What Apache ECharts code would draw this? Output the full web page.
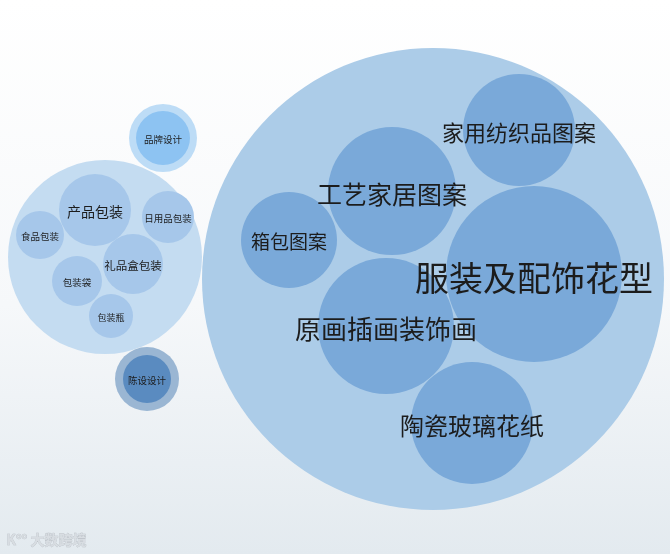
<!DOCTYPE html>
<html>
<head>
<meta charset="utf-8">
<script src="https://cdn.jsdelivr.net/npm/echarts@6/dist/echarts.min.js"></script>
<style>
html,body{margin:0;padding:0;}
#main{width:670px;height:554px;}
</style>
</head>
<body>
<div id="main"></div>
<script>
// Group (parent) circles
const groupNames = ['图案设计', '包装设计', '品牌设计', '陈设设计'];
const groupX = [433, 105, 163, 147];
const groupY = [279, 257, 138, 379];
const groupR = [231, 97, 34, 32];

// Leaf circles
const leafNames = ['家用纺织品图案', '工艺家居图案', '箱包图案', '服装及配饰花型', '原画插画装饰画', '陶瓷玻璃花纸',
  '产品包装', '日用品包装', '食品包装', '礼品盒包装', '包装袋', '包装瓶', '品牌设计', '陈设设计'];
const leafGroup = [0, 0, 0, 0, 0, 0, 1, 1, 1, 1, 1, 1, 2, 3];
const leafX = [519, 392, 289, 534, 386, 472, 95, 168, 40, 133, 77, 111, 163, 147];
const leafY = [130, 191, 240, 274, 326, 423, 210, 217, 235, 264, 281, 316, 138, 379];
const leafR = [56, 64, 48, 88, 68, 61, 36, 26, 24, 30, 25, 22, 27, 24];

// styles (not data)
const groupColors = ['#acccE8', '#c4dcf1', '#bddcf6', '#9ab6d3'];
const leafColors = ['#7aa9d9', '#a6c7ea', '#8dc3f2', '#5a8bc0'];
const leafFont = [22, 25, 19, 34, 26, 24, 14, 9.5, 9.5, 11.5, 9.5, 9, 9.5, 9.5];

const chart = echarts.init(document.getElementById('main'));

function circleItem(colorArr) {
  return function (params, api) {
    const c = api.coord([api.value(0), api.value(1)]);
    const s = api.size([api.value(2), api.value(2)]);
    return {
      type: 'circle',
      shape: { cx: c[0], cy: c[1], r: s[0] },
      style: { fill: colorArr[api.value(3)] }
    };
  };
}

function labelItem(params, api) {
  const c = api.coord([api.value(0), api.value(1)]);
  const fs = leafFont[params.dataIndex];
  return {
    type: 'text',
    style: {
      text: api.value(4),
      x: c[0], y: c[1] + fs * 0.12,
      align: 'center', verticalAlign: 'middle',
      fill: '#1c1c1c',
      font: fs + 'px "Noto Sans CJK SC", sans-serif'
    }
  };
}

const groupData = groupNames.map((n, i) => [groupX[i], groupY[i], groupR[i], i, n]);
const leafData = leafNames.map((n, i) => [leafX[i], leafY[i], leafR[i], leafGroup[i], n]);

chart.setOption({
  animation: false,
  backgroundColor: {
    type: 'linear', x: 0, y: 0, x2: 0, y2: 1,
    colorStops: [{ offset: 0, color: '#ffffff' }, { offset: 0.55, color: '#f6f8fa' }, { offset: 1, color: '#e3eaef' }]
  },
  grid: { left: 0, right: 0, top: 0, bottom: 0 },
  xAxis: { type: 'value', min: 0, max: 670, show: false },
  yAxis: { type: 'value', min: 0, max: 554, inverse: true, show: false },
  graphic: [{
    type: 'text', left: 6, top: 532,
    style: { text: 'K°° 大数跨境', fill: '#d8dde2', stroke: '#b8bec4', lineWidth: 0.6, font: 'bold 14px "Noto Sans CJK SC", sans-serif' }
  }],
  series: [
    { type: 'custom', renderItem: circleItem(groupColors), data: groupData, encode: { x: 0, y: 1 }, silent: true, z: 1 },
    { type: 'custom', renderItem: circleItem(leafColors), data: leafData, encode: { x: 0, y: 1 }, silent: true, z: 2 },
    { type: 'custom', renderItem: labelItem, data: leafData, encode: { x: 0, y: 1 }, silent: true, z: 3 }
  ]
});
</script>
</body>
</html>
